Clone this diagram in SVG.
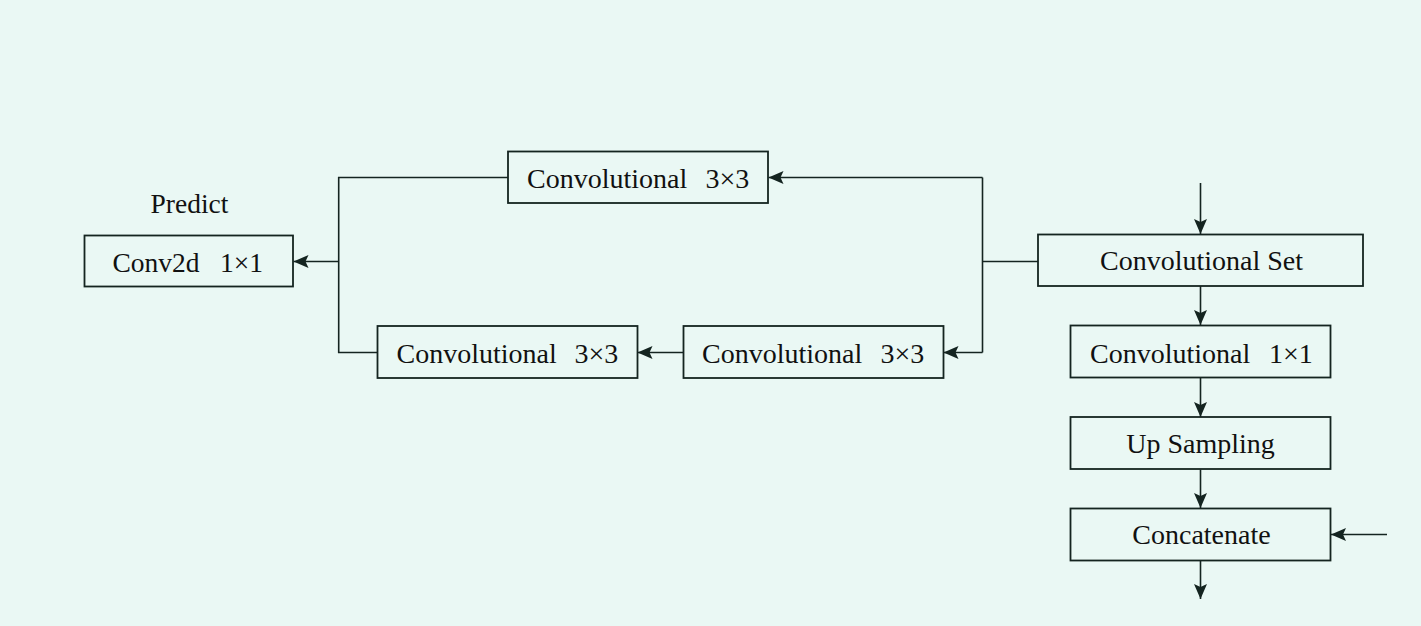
<svg xmlns="http://www.w3.org/2000/svg" width="1421" height="626" viewBox="0 0 1421 626">
  <defs>
    <marker id="arr" markerUnits="userSpaceOnUse" markerWidth="16" markerHeight="14" refX="15" refY="6.5" orient="auto">
      <path d="M0,0 L15,6.5 L0,13 L3,6.5 z" fill="#142420"/>
    </marker>
    <style>
      .box { fill: none; stroke: #142420; stroke-width: 1.8; }
      .ln { fill: none; stroke: #142420; stroke-width: 1.6; }
      .t { font-family: "Liberation Serif", "Times New Roman", serif; font-size: 28px; fill: #111; }
      .s { font-family: "Liberation Serif", "Times New Roman", serif; font-size: 27.5px; fill: #111; }
      .c { text-anchor: middle; }
    </style>
  </defs>
  <rect x="0" y="0" width="1421" height="626" fill="#EAF8F4"/>

  <g id="connectors">
    <polyline class="ln" points="508,177.5 338.7,177.5 338.7,352.5 377,352.5"/>
    <line class="ln" x1="338.7" y1="261.5" x2="293.5" y2="261.5" marker-end="url(#arr)"/>
    <line class="ln" x1="1038" y1="261.5" x2="982.5" y2="261.5"/>
    <line class="ln" x1="982.5" y1="177.5" x2="982.5" y2="352.5"/>
    <line class="ln" x1="982.5" y1="177.5" x2="768.5" y2="177.5" marker-end="url(#arr)"/>
    <line class="ln" x1="982.5" y1="352.5" x2="943.5" y2="352.5" marker-end="url(#arr)"/>
    <line class="ln" x1="683" y1="352.5" x2="637.5" y2="352.5" marker-end="url(#arr)"/>
    <line class="ln" x1="1200.5" y1="183" x2="1200.5" y2="234" marker-end="url(#arr)"/>
    <line class="ln" x1="1200.5" y1="286" x2="1200.5" y2="325" marker-end="url(#arr)"/>
    <line class="ln" x1="1200.5" y1="377.5" x2="1200.5" y2="417" marker-end="url(#arr)"/>
    <line class="ln" x1="1200.5" y1="469.5" x2="1200.5" y2="508" marker-end="url(#arr)"/>
    <line class="ln" x1="1200.5" y1="561" x2="1200.5" y2="599" marker-end="url(#arr)"/>
    <line class="ln" x1="1387" y1="534.5" x2="1331" y2="534.5" marker-end="url(#arr)"/>
  </g>

  <g id="predict-label">
    <text class="s" x="150.5" y="212.5">Predict</text>
  </g>

  <g id="conv2d">
    <rect class="box" x="84.5" y="235.5" width="208.5" height="51"/>
    <text class="s" y="271.5"><tspan x="112.5">Conv2d</tspan><tspan x="220">1×1</tspan></text>
  </g>

  <g id="conv-top">
    <rect class="box" x="508" y="151.5" width="260" height="51.5"/>
    <text class="t" y="187.5"><tspan x="527">Convolutional</tspan><tspan x="705.5">3×3</tspan></text>
  </g>

  <g id="conv-bottom-left">
    <rect class="box" x="377.5" y="326" width="260" height="52"/>
    <text class="t" y="362.5"><tspan x="396.5">Convolutional</tspan><tspan x="574.5">3×3</tspan></text>
  </g>

  <g id="conv-bottom-mid">
    <rect class="box" x="683.5" y="326" width="260" height="52"/>
    <text class="t" y="362.5"><tspan x="702">Convolutional</tspan><tspan x="880.5">3×3</tspan></text>
  </g>

  <g id="conv-set">
    <rect class="box" x="1038" y="234.5" width="325" height="51.5"/>
    <text class="t c" x="1201.5" y="269.5">Convolutional Set</text>
  </g>

  <g id="conv-1x1">
    <rect class="box" x="1070.5" y="325.5" width="260" height="52"/>
    <text class="t" y="362.5"><tspan x="1090">Convolutional</tspan><tspan x="1269">1×1</tspan></text>
  </g>

  <g id="up-sampling">
    <rect class="box" x="1070.5" y="417" width="260" height="52"/>
    <text class="t c" x="1200.5" y="452.5">Up Sampling</text>
  </g>

  <g id="concatenate">
    <rect class="box" x="1070.5" y="508.5" width="260" height="52"/>
    <text class="t c" x="1201.5" y="543.5">Concatenate</text>
  </g>
</svg>
